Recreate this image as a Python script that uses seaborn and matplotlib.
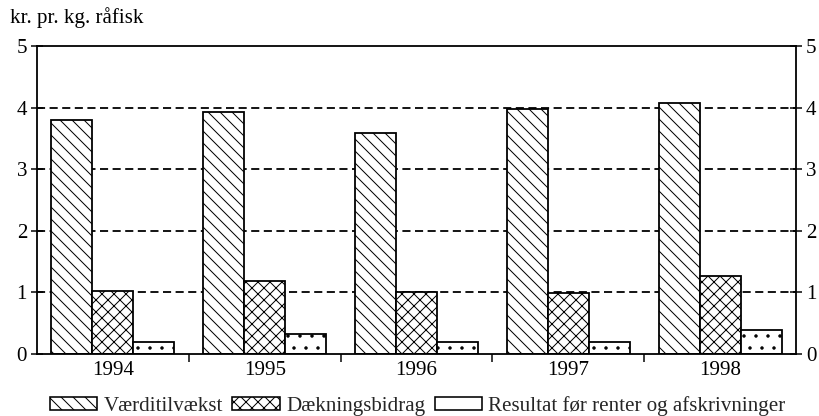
import matplotlib
matplotlib.use("Agg")
import matplotlib.pyplot as plt
from matplotlib.ticker import FixedLocator
import seaborn as sns
import pandas as pd

years = ["1994", "1995", "1996", "1997", "1998"]
series = ["Værditilvækst", "Dækningsbidrag", "Resultat før renter og afskrivninger"]
vaerditilvaekst = [3.80, 3.93, 3.58, 3.98, 4.08]
daekningsbidrag = [1.03, 1.19, 1.00, 0.99, 1.27]
resultat = [0.19, 0.32, 0.19, 0.19, 0.39]
hatches = ["\\\\", "xx", "."]

df = pd.DataFrame({
    "year": years * 3,
    "series": [series[0]] * 5 + [series[1]] * 5 + [series[2]] * 5,
    "value": vaerditilvaekst + daekningsbidrag + resultat,
})

sns.set_style("white")
plt.rcParams["font.family"] = ["Liberation Serif", "DejaVu Serif"]
plt.rcParams["hatch.linewidth"] = 1.0
plt.rcParams["hatch.color"] = "black"

fig = plt.figure(figsize=(819 / 72, 416 / 72), dpi=72)
ax = fig.add_axes([37 / 819, 1 - 354 / 416, (796 - 37) / 819, (354 - 46) / 416])

sns.barplot(data=df, x="year", y="value", hue="series", order=years,
            hue_order=series, palette=["white"] * 3, width=0.81,
            edgecolor="black", linewidth=1.8, saturation=1, legend=False, ax=ax)

for cont, h in zip(ax.containers, hatches):
    for bar in cont:
        bar.set_hatch(h)

ax.set_ylim(0, 5)
ax.set_xlim(-0.5, 4.5)
ax.set_yticks([0, 1, 2, 3, 4, 5])
ax.set_xlabel("")
ax.set_ylabel("")

for y in [1, 2, 3, 4]:
    ax.axhline(y, color="black", linestyle=(0, (4.5, 2.5)), linewidth=1.8, zorder=0)

for sp in ax.spines.values():
    sp.set_visible(True)
    sp.set_color("black")
    sp.set_linewidth(1.8)

ax.tick_params(axis="y", which="major", direction="inout", length=12, width=1.5,
               left=True, right=True, labelleft=True, labelright=True,
               labelsize=21, pad=4, colors="black")
ax.tick_params(axis="x", which="major", length=0, labelsize=21, pad=7, colors="black")
ax.xaxis.set_minor_locator(FixedLocator([0.5, 1.5, 2.5, 3.5]))
ax.tick_params(axis="x", which="minor", direction="out", length=8, width=1.5,
               bottom=True, colors="black")

fig.text(10 / 819, 1 - 7 / 416, "kr. pr. kg. råfisk", fontsize=21,
         ha="left", va="top", color="black")

handles = [plt.Rectangle((0, 0), 1, 1, facecolor="white", edgecolor="black",
                         linewidth=1.6, hatch=h if h != "." else "")
           for h in hatches]
fig.legend(handles, series, loc="lower center", bbox_to_anchor=(0.51, -0.045),
           ncol=3, frameon=False, fontsize=21, handlelength=2.25,
           handleheight=0.55, handletextpad=0.3, columnspacing=0.45)

fig.savefig("out.png", dpi=72)
